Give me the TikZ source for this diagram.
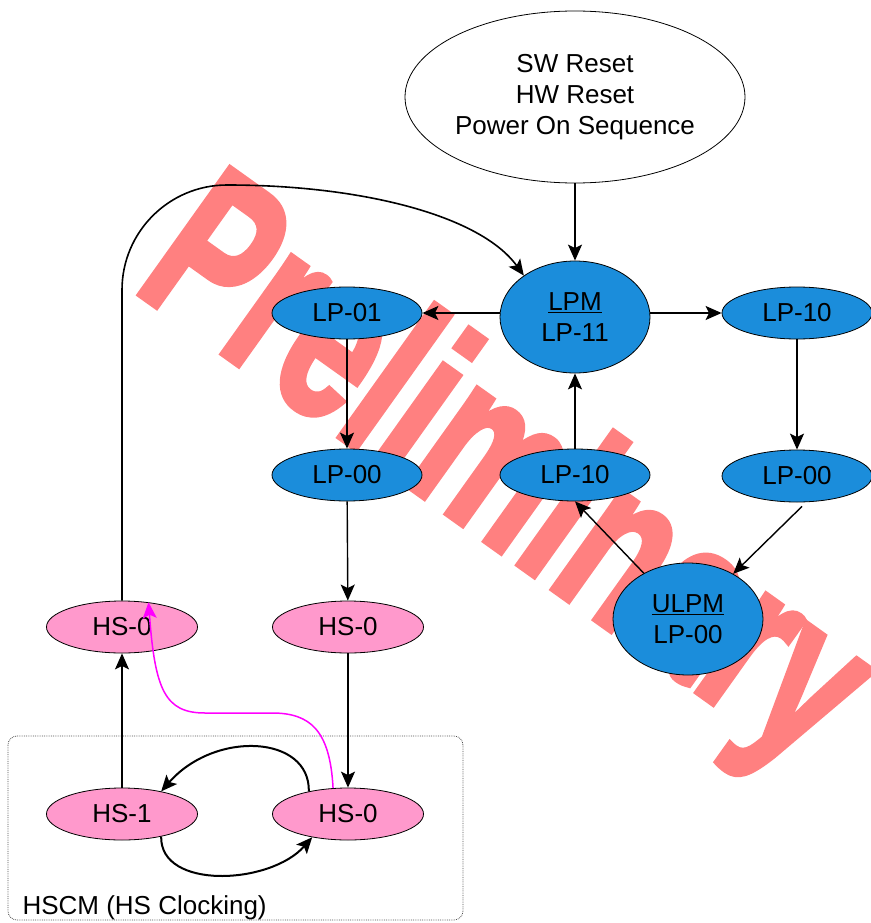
\documentclass[tikz,border=0pt]{standalone}
\usepackage{fontspec}
\usepackage{graphicx}
\setmainfont{Liberation Sans}
\newfontfamily\stampfont[BoldFeatures={FakeBold=3}]{Liberation Sans}
\usetikzlibrary{shapes.geometric,arrows.meta,calc}
\definecolor{lpblue}{RGB}{27,141,219}
\definecolor{hspink}{RGB}{255,153,204}
\definecolor{boxgrey}{RGB}{80,80,80}
\definecolor{stampred}{RGB}{255,128,128}
\definecolor{hotmagenta}{RGB}{255,0,255}
\begin{document}
\begin{tikzpicture}[x=1pt,y=-1pt,
  font=\fontsize{26}{31}\selectfont,
  stnode/.style={ellipse, draw=black, line width=0.8pt, inner sep=0pt, align=center},
  lp/.style={stnode, fill=lpblue, minimum width=150pt, minimum height=52pt},
  lpbig/.style={stnode, fill=lpblue, minimum width=150pt, minimum height=112pt},
  hs/.style={stnode, fill=hspink, minimum width=151pt, minimum height=52pt},
  tip/.style={-{Stealth[length=16pt,width=14pt,inset=3.5pt]}},
  flow/.style={tip, line width=1.4pt},
  swing/.style={tip, line width=2pt},
  hscm/.style={draw=boxgrey, line width=0.8pt, densely dotted, rounded corners=9pt},
]
\useasboundingbox (0,0) rectangle (870,923);

% draft stamp, behind everything
\node[anchor=base west, inner sep=0pt, rotate=-35.5, text=stampred,
  font=\stampfont\bfseries\fontsize{152}{152}\selectfont] (stamp) at (131,288)
  {\scalebox{1}[1.48]{Preliminary}};

% HS clocking region
\draw[hscm] (8,736) rectangle (463,920);
\node[anchor=base west] (hscm) at (19,914) {HSCM (HS Clocking)};

% states
\node[stnode, fill=white, minimum width=340pt, minimum height=172pt] (reset) at (575,97)
  {SW Reset\\HW Reset\\Power On Sequence};
\node[lpbig] (lpm) at (575,317) {\underline{LPM}\\LP-11};
\node[lp] (lp01) at (347,313) {LP-01};
\node[lp] (lp10r) at (797,313) {LP-10};
\node[lp] (lp00l) at (347,475) {LP-00};
\node[lp] (lp10m) at (575,475) {LP-10};
\node[lp] (lp00r) at (797,476) {LP-00};
\node[lpbig] (ulpm) at (688,619) {\underline{ULPM}\\LP-00};
\node[hs] (hs0a) at (122,627) {HS-0};
\node[hs] (hs0b) at (348,627) {HS-0};
\node[hs] (hs1) at (122,814) {HS-1};
\node[hs] (hs0c) at (348,814) {HS-0};

% transitions
\draw[flow] (reset.south) -- (lpm.north);
\draw[flow] (lp01.east -| lpm.west) -- (lp01.east);
\draw[flow] (lp10r.west -| lpm.east) -- (lp10r.west);
\draw[flow] (lp01) -- (lp00l);
\draw[flow] (lp10r) -- (lp00r);
\draw[flow] (lp10m) -- (lpm);
\draw[flow] ($(lp00r.south)+(5,4)$) -- (ulpm.45);
\draw[flow] (ulpm.134) -- (lp10m.south);
\draw[flow] (lp00l) -- (hs0b);
\draw[flow] (hs0b) -- (hs0c);
\draw[flow] (hs1) -- (hs0a);
\draw[flow, line width=1.6pt] (hs0a.north) -- (122,290)
  .. controls (122,232) and (169,185) .. (227,185)
  .. controls (360,185) and (480,215) .. (lpm.141);
\draw[flow, draw=hotmagenta, line width=1.5pt] (hs0c.120)
  .. controls (330,730) and (310,713) .. (272,713) -- (205,713)
  .. controls (165,713) and (155,690) .. (hs0a.43);
\draw[swing] (hs0c.150) .. controls (310,735) and (215,730) .. (hs1.30);
\draw[swing] (hs1.-30) .. controls (160,890) and (270,885) .. (hs0c.-147);
\end{tikzpicture}
\end{document}
